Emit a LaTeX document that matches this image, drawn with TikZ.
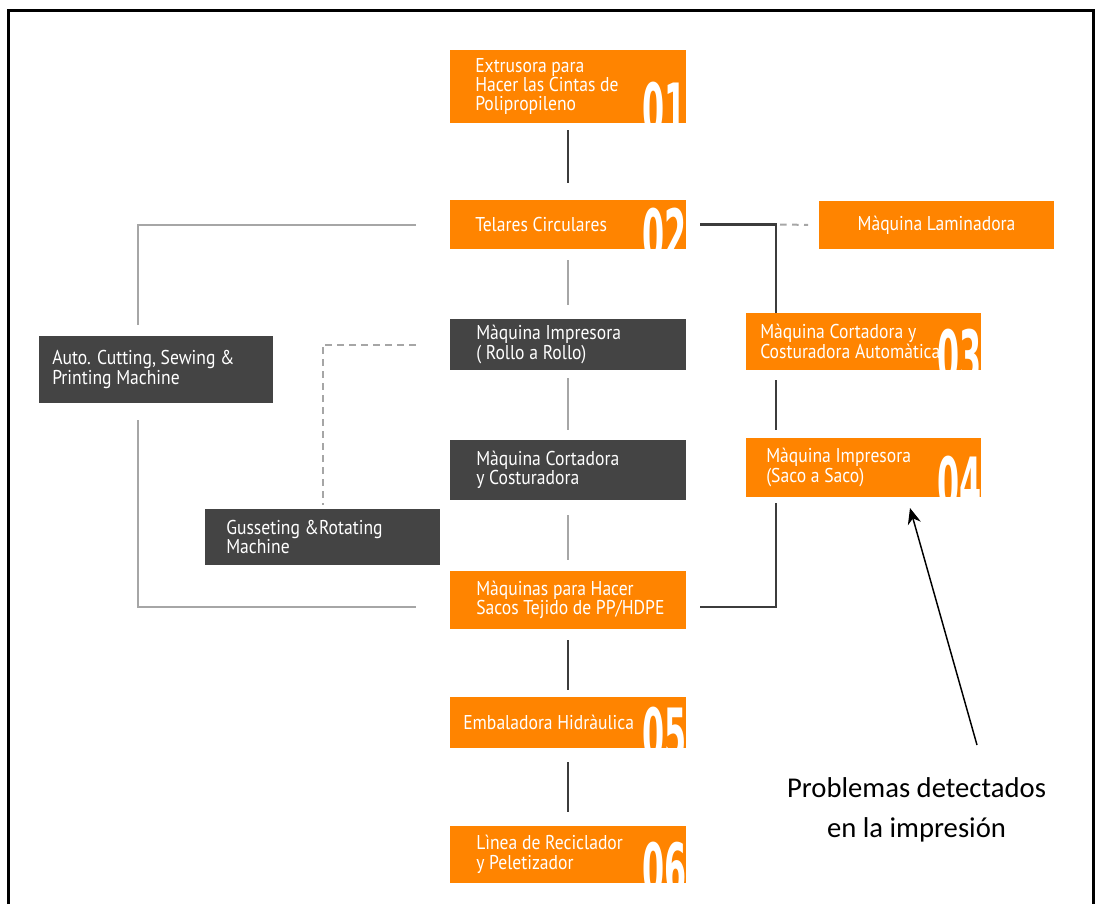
\documentclass[tikz,border=0pt]{standalone}
\usepackage{fontspec}
\usetikzlibrary{arrows.meta,calc}
\newfontfamily\boxfont[FakeStretch=0.88]{PT Sans}
\newfontfamily\numfont[FakeStretch=0.45]{DejaVu Sans Bold}
\newfontfamily\notefont{Carlito}
\definecolor{stageorange}{HTML}{FF8400}
\definecolor{stagegray}{HTML}{444444}
\definecolor{linkgray}{HTML}{A6A6A6}
\definecolor{linkdark}{HTML}{3C3C3C}
% a process box from its top-left to its bottom-right corner (pixel units)
\newcommand\stagebox[6]{%
  \node[#6, minimum width={(#4-#2)*0.75pt}, minimum height={(#5-#3)*0.75pt}] (#1) at (#2,#3) {};}
% a big white stage number, clipped to its box
\newcommand\stagenum[2]{%
  \begin{scope}
    \clip (#1.south west) rectangle (#1.north east);
    \node[stagenumber] (#1-n) at ($(#1.south east)+(1,-41)$) {#2};
  \end{scope}}
\tikzset{
  stage/.style={rectangle, inner sep=0pt, outer sep=0pt, anchor=north west},
  orangebox/.style={stage, fill=stageorange},
  darkbox/.style={stage, fill=stagegray},
  stagetext/.style={anchor=west, inner sep=0pt, align=left, text=white,
    font=\boxfont\fontsize{15}{14.5}\selectfont},
  stagenumber/.style={anchor=north east, inner sep=0pt, text=white,
    font=\numfont\fontsize{53}{53}\selectfont},
  lightlink/.style={draw=linkgray, line width=1.5pt},
  darklink/.style={draw=linkdark, line width=1.6pt},
  dashlink/.style={draw=linkgray, line width=1.5pt, dash pattern=on 5pt off 4pt},
}
\begin{document}
\begin{tikzpicture}[x=0.75pt,y=-0.75pt]
\useasboundingbox (0,0) rectangle (1096,904);

% outer frame
\draw[line width=2.25pt] (8,904) -- (8,10) -- (1093,10) -- (1093,904);

% process boxes
\stagebox{b1}{450}{50}{686}{123}{orangebox}
\stagebox{b2}{450}{200}{686}{249}{orangebox}
\stagebox{lam}{819}{201}{1054}{249}{orangebox}
\stagebox{auto}{39}{336}{273}{403}{darkbox}
\stagebox{imp}{450}{319}{686}{370}{darkbox}
\stagebox{b3}{746}{313}{981}{370}{orangebox}
\stagebox{cort}{450}{440}{686}{500}{darkbox}
\stagebox{b4}{746}{438}{981}{497}{orangebox}
\stagebox{guss}{205}{509}{440}{565}{darkbox}
\stagebox{sacos}{450}{571}{686}{629}{orangebox}
\stagebox{b5}{450}{697}{686}{748}{orangebox}
\stagebox{b6}{450}{826}{686}{883}{orangebox}

% stage numbers
\stagenum{b1}{01}
\stagenum{b2}{02}
\stagenum{b3}{03}
\stagenum{b4}{04}
\stagenum{b5}{05}
\stagenum{b6}{06}

% box labels
\node[stagetext] (b1-t) at ($(b1.west)+(25,0)$) {Extrusora para\\Hacer las Cintas de\\Polipropileno};
\node[stagetext] (b2-t) at ($(b2.west)+(25,0)$) {Telares Circulares};
\node[stagetext, anchor=center] (lam-t) at (lam.center) {Màquina Laminadora};
\node[stagetext] (auto-t) at ($(auto.west)+(13,0)$) {Auto. Cutting, Sewing \&\\Printing Machine};
\node[stagetext] (imp-t) at ($(imp.west)+(26,0)$) {Màquina Impresora\\( Rollo a Rollo)};
\node[stagetext] (b3-t) at ($(b3.west)+(14,0)$) {Màquina Cortadora y\\Costuradora Automàtica};
\node[stagetext] (cort-t) at ($(cort.west)+(26,0)$) {Màquina Cortadora\\y Costuradora};
\node[stagetext] (b4-t) at ($(b4.west)+(20,0)$) {Màquina Impresora\\(Saco a Saco)};
\node[stagetext] (guss-t) at ($(guss.west)+(21,0)$) {Gusseting \&Rotating\\Machine};
\node[stagetext] (sacos-t) at ($(sacos.west)+(26,0)$) {Màquinas para Hacer\\Sacos Tejido de PP/HDPE};
\node[stagetext] (b5-t) at ($(b5.west)+(13,0)$) {Embaladora Hidràulica};
\node[stagetext] (b6-t) at ($(b6.west)+(26,0)$) {Lìnea de Reciclador\\y Peletizador};

% main column
\draw[darklink, shorten <=5.25pt, shorten >=12.75pt] (b1) -- (b2);
\draw[lightlink, shorten <=8.25pt, shorten >=10.5pt] (b2) -- (imp);
\draw[lightlink, shorten <=6pt, shorten >=7.5pt] (imp) -- (cort);
\draw[lightlink, shorten <=11.25pt, shorten >=8.25pt] (cort) -- (sacos);
\draw[darklink, shorten <=8.25pt, shorten >=5.25pt] (sacos) -- (b5);
\draw[darklink, shorten <=10.5pt, shorten >=10.5pt] (b5) -- (b6);

% left branch
\coordinate (lx) at (138,0);
\coordinate (sw) at ($(sacos.west)+(0,7)$);
\draw[lightlink, shorten <=25.5pt, shorten >=8.25pt] (b2.west) -| (auto.north -| lx);
\draw[lightlink, shorten <=12.75pt, shorten >=25.5pt] (auto.south -| lx) |- (sw);
\draw[dashlink, shorten <=25.5pt, shorten >=3pt] (imp.west) -| (guss.north);

% right branch
\coordinate (rx) at (776,0);
\coordinate (se) at ($(sacos.east)+(0,7)$);
\draw[darklink, shorten <=10.5pt] (b2.east) -| (b3.north -| rx);
\draw[dashlink, shorten <=3pt, shorten >=8.25pt] (b2.east -| rx) -- (lam.west);
\draw[darklink, shorten <=7.5pt, shorten >=6pt] (b3.south -| rx) -- (b4.north -| rx);
\draw[darklink, shorten <=4.5pt, shorten >=10.5pt] (b4.south -| rx) |- (se);

% note with its arrow
\node[font=\notefont\fontsize{21.5}{30}\selectfont, align=center, inner sep=0pt] (note) at (916.5,810) {Problemas detectados\\en la impresión};
\coordinate (tail) at (977,745);
\coordinate (tip) at (910,508);
\draw[-{Stealth[length=12pt,width=10pt]}, line width=1.1pt] (tail) -- (tip);
\end{tikzpicture}
\end{document}
